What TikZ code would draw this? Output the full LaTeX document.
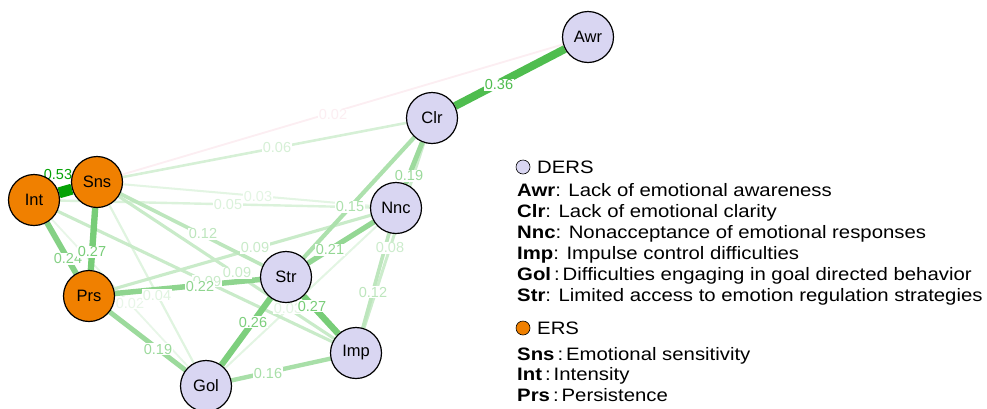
\documentclass[tikz,border=0pt]{standalone}
\usepackage{fontspec}
\setmainfont{Liberation Sans}
\newfontfamily\legfont[FakeStretch=1.13]{Liberation Sans}
\usetikzlibrary{backgrounds}
\definecolor{egreen}{RGB}{0,160,0}
\definecolor{epink}{RGB}{225,70,110}
\definecolor{lav}{RGB}{217,214,242}
\definecolor{orng}{RGB}{240,128,0}
\newcommand\nedge[4][egreen]{\pgfmathtruncatemacro\ep{min(100,6+175*#4)}\pgfmathsetmacro\ew{1.5+18*#4}\draw[line width=\ew pt, draw=#1!\ep!white] (#2) -- (#3);}
\newcommand\nlab[5][egreen]{\pgfmathtruncatemacro\ep{min(100,6+175*#4)}\node[elab, text=#1!\ep!white] (#2) at (#3) {#5};}
\begin{document}
\begin{tikzpicture}[x=1pt,y=-1pt,
  vnode/.style={circle, draw=black, line width=1.2pt, minimum size=51pt, inner sep=0pt, font=\fontsize{16.5}{19}\selectfont},
  dersn/.style={vnode, fill=lav},
  ersn/.style={vnode, fill=orng},
  elab/.style={fill=white, inner sep=0.6pt, font=\fontsize{14.5}{16}\selectfont},
  leg/.style={anchor=base west, inner sep=0pt, font=\legfont\fontsize{18}{21}\selectfont},
  key/.style={circle, draw=black, line width=0.6pt, minimum size=14pt, inner sep=0pt}]
\useasboundingbox (0,0) rectangle (987,408);
% nodes
\node[dersn] (Awr) at (588,37) {Awr};
\node[dersn] (Clr) at (432,118) {Clr};
\node[dersn] (Nnc) at (396,208) {Nnc};
\node[dersn] (Str) at (286,277) {Str};
\node[dersn] (Imp) at (356,353) {Imp};
\node[dersn] (Gol) at (206,386) {Gol};
\node[ersn] (Prs) at (89,296) {Prs};
\node[ersn] (Int) at (34,200) {Int};
\node[ersn] (Sns) at (97,182) {Sns};
\begin{pgfonlayer}{background}
\nedge[epink]{Sns}{Awr}{0.02}
\nedge{Int}{Gol}{0.02}
\nedge{Sns}{Nnc}{0.03}
\nedge{Gol}{Nnc}{0.03}
\nedge{Sns}{Gol}{0.04}
\nedge{Int}{Nnc}{0.05}
\nedge{Sns}{Clr}{0.06}
\nedge{Clr}{Imp}{0.08}
\nedge{Prs}{Nnc}{0.09}
\nedge{Sns}{Imp}{0.09}
\nedge{Int}{Imp}{0.09}
\nedge{Sns}{Str}{0.12}
\nedge{Nnc}{Imp}{0.12}
\nedge{Clr}{Str}{0.15}
\nedge{Gol}{Imp}{0.16}
\nedge{Clr}{Nnc}{0.19}
\nedge{Prs}{Gol}{0.19}
\nedge{Nnc}{Str}{0.21}
\nedge{Prs}{Str}{0.22}
\nedge{Int}{Prs}{0.24}
\nedge{Str}{Gol}{0.26}
\nedge{Sns}{Prs}{0.27}
\nedge{Str}{Imp}{0.27}
\nedge{Awr}{Clr}{0.36}
\nedge{Int}{Sns}{0.53}
% labels
\nlab[epink]{lSnsAwr}{333,115}{0.02}{0.02}
\nlab{lIntGol}{130,303}{0.02}{0.02}
\nlab{lSnsNnc}{258,197}{0.03}{0.03}
\nlab{lGolNnc}{288,308}{0.03}{0.03}
\nlab{lSnsGol}{157,295}{0.04}{0.04}
\nlab{lIntNnc}{228,205}{0.05}{0.05}
\nlab{lSnsClr}{277,148}{0.06}{0.06}
\nlab{lClrImp}{390,248}{0.08}{0.08}
\nlab{lPrsNnc}{255,248}{0.09}{0.09}
\nlab{lSnsImp}{237,273}{0.09}{0.09}
\nlab{lIntImp}{207,281}{0.09}{0.09}
\nlab{lSnsStr}{203,234}{0.12}{0.12}
\nlab{lNncImp}{373,292}{0.12}{0.12}
\nlab{lClrStr}{350,207}{0.15}{0.15}
\nlab{lGolImp}{268,373}{0.16}{0.16}
\nlab{lClrNnc}{409,176}{0.19}{0.19}
\nlab{lPrsGol}{158,349}{0.19}{0.19}
\nlab{lNncStr}{330,250}{0.21}{0.21}
\nlab{lPrsStr}{200,287}{0.22}{0.22}
\nlab{lIntPrs}{68,259}{0.24}{0.24}
\nlab{lStrGol}{253,322}{0.26}{0.26}
\nlab{lSnsPrs}{92,252}{0.27}{0.27}
\nlab{lStrImp}{312,306}{0.27}{0.27}
\nlab{lAwrClr}{499,85}{0.36}{0.36}
\nlab{lIntSns}{58,175}{0.53}{0.53}
\end{pgfonlayer}
% legend
\node[key, fill=lav] (kD) at (523,167) {};
\node[leg] (tD) at (537,173) {DERS};
\node[leg] (t1) at (517,196) {\textbf{Awr}: Lack of emotional awareness};
\node[leg] (t2) at (517,217) {\textbf{Clr}: Lack of emotional clarity};
\node[leg] (t3) at (517,238) {\textbf{Nnc}: Nonacceptance of emotional responses};
\node[leg] (t4) at (517,259) {\textbf{Imp}: Impulse control difficulties};
\node[leg] (t5) at (517,280) {\textbf{Gol}\,:\,Difficulties engaging in goal directed behavior};
\node[leg] (t6) at (517,301) {\textbf{Str}: Limited access to emotion regulation strategies};
\node[key, fill=orng] (kE) at (523,328) {};
\node[leg] (tE) at (537,334) {ERS};
\node[leg] (t7) at (517,360) {\textbf{Sns}\,:\,Emotional sensitivity};
\node[leg] (t8) at (517,380) {\textbf{Int}\,:\,Intensity};
\node[leg] (t9) at (517,401) {\textbf{Prs}\,:\,Persistence};
\end{tikzpicture}
\end{document}
